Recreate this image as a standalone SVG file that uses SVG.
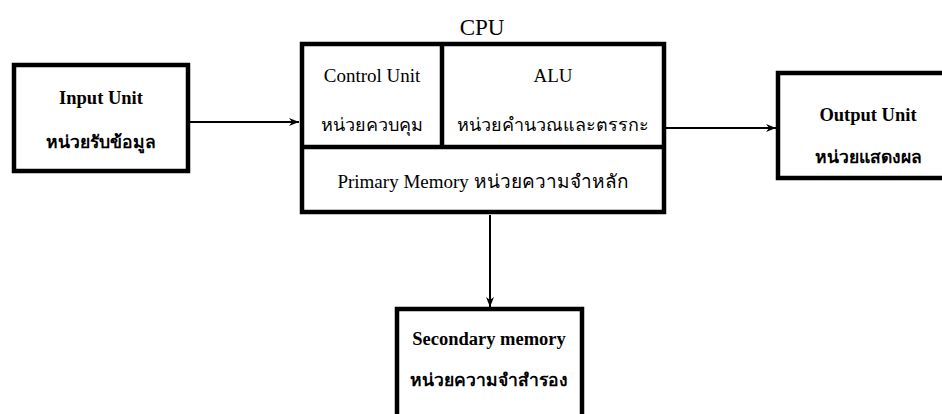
<svg xmlns="http://www.w3.org/2000/svg" width="942" height="414" viewBox="0 0 942 414">
<style>
.box{fill:#fff;stroke:#000;stroke-width:4.5}
.div{stroke:#000;stroke-width:4.5;fill:none}
.con{stroke:#000;stroke-width:2;fill:none}
.t{font-family:"Liberation Serif","Times New Roman",serif;fill:#000;text-anchor:middle}
.n{font-size:19px}
.b{font-size:18.5px;font-weight:bold}
.th{font-size:18px}
.thb{font-size:17.5px;font-weight:bold}
</style>
<defs>
<marker id="ah" viewBox="0 0 10 8" refX="10" refY="4" markerWidth="10" markerHeight="8" markerUnits="userSpaceOnUse" orient="auto">
<path d="M0,0 L10,4 L0,8 L3,4 Z" fill="#000"/>
</marker>
</defs>
<rect width="942" height="414" fill="#fff"/>
<g id="connectors">
<line class="con" x1="190" y1="122" x2="299" y2="122" marker-end="url(#ah)"/>
<line class="con" x1="666" y1="128" x2="776" y2="128" marker-end="url(#ah)"/>
<line class="con" x1="490" y1="215" x2="490" y2="307" marker-end="url(#ah)"/>
</g>
<g id="input">
<rect class="box" x="14" y="65" width="174" height="106"/>
<text class="t b" x="101" y="104">Input Unit</text>
<text class="t thb" x="101" y="148">หน่วยรับข้อมูล</text>
</g>
<g id="cpu">
<text class="t" x="482" y="35" font-size="23">CPU</text>
<rect class="box" x="302" y="44" width="362" height="168"/>
<line class="div" x1="302" y1="147" x2="664" y2="147"/>
<line class="div" x1="442" y1="44" x2="442" y2="147"/>
<g id="control-unit">
<text class="t n" x="372" y="82">Control Unit</text>
<text class="t th" x="372" y="131">หน่วยควบคุม</text>
</g>
<g id="alu">
<text class="t n" x="553" y="82">ALU</text>
<text class="t th" x="553" y="131">หน่วยคำนวณและตรรกะ</text>
</g>
<g id="primary-memory">
<text class="t n" x="483" y="188">Primary Memory หน่วยความจำหลัก</text>
</g>
</g>
<g id="output">
<rect class="box" x="778" y="73" width="170" height="105"/>
<text class="t b" x="868" y="121">Output Unit</text>
<text class="t thb" x="868" y="163">หน่วยแสดงผล</text>
</g>
<g id="secondary">
<rect class="box" x="397" y="309" width="185" height="110"/>
<text class="t b" x="489" y="345">Secondary memory</text>
<text class="t thb" x="489" y="386">หน่วยความจำสำรอง</text>
</g>
</svg>
